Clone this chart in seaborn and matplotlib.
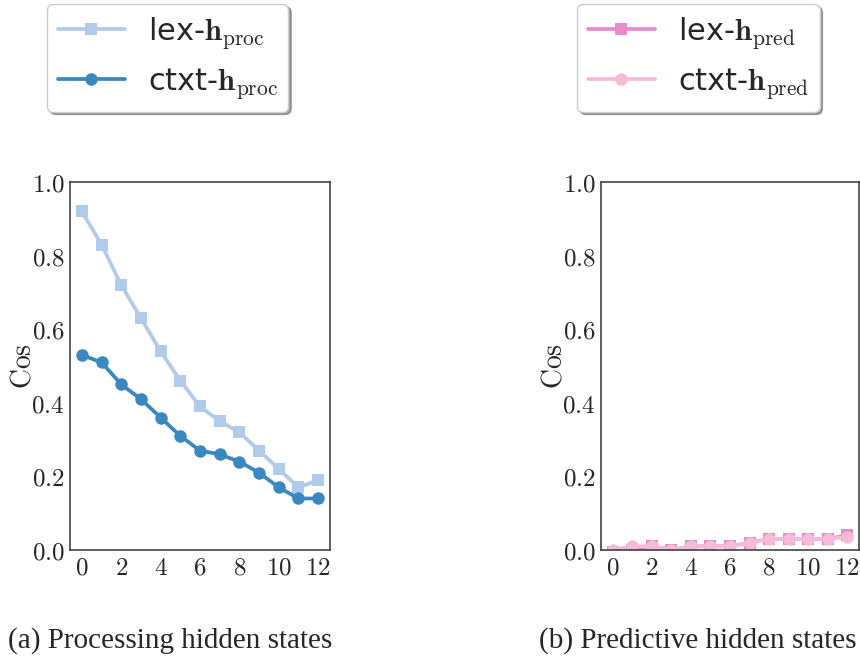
import numpy as np
import pandas as pd
import matplotlib
matplotlib.use("Agg")
import matplotlib.pyplot as plt
import seaborn as sns

layers = list(range(13))

lex_proc = [0.92, 0.83, 0.72, 0.63, 0.54, 0.46, 0.39, 0.35, 0.32, 0.27, 0.22, 0.17, 0.19]
ctxt_proc = [0.53, 0.51, 0.45, 0.41, 0.36, 0.31, 0.27, 0.26, 0.24, 0.21, 0.17, 0.14, 0.14]
lex_pred = [-0.005, 0.0, 0.01, 0.0, 0.01, 0.01, 0.01, 0.02, 0.03, 0.03, 0.03, 0.03, 0.04]
ctxt_pred = [0.0, 0.01, 0.01, 0.0, 0.01, 0.01, 0.01, 0.02, 0.03, 0.03, 0.03, 0.03, 0.035]

y_ticks = [0.0, 0.2, 0.4, 0.6, 0.8, 1.0]
x_ticks = [0, 2, 4, 6, 8, 10, 12]

sns.set_style("white")
plt.rcParams["mathtext.fontset"] = "cm"
plt.rcParams["axes.edgecolor"] = "#444444"
plt.rcParams["axes.linewidth"] = 1.2

fig = plt.figure(figsize=(8.6, 6.59), dpi=100)
W, H = 860, 659
ax_a = fig.add_axes([70 / W, 1 - 550 / H, 260 / W, 368 / H])
ax_b = fig.add_axes([601 / W, 1 - 550 / H, 258 / W, 368 / H])


def draw(ax, series):
    for vals, color, marker, label in series:
        sns.lineplot(x=layers, y=vals, ax=ax, color=color, marker=marker,
                     markersize=9, linewidth=2.7, markeredgewidth=0,
                     label=label, legend=False)
    ax.set_xlim(-0.6, 12.6)
    ax.set_ylim(0.0, 1.0)
    ax.set_xticks(x_ticks)
    ax.set_xticklabels([f"${t}$" for t in x_ticks], fontsize=18)
    ax.set_yticks(y_ticks)
    ax.set_yticklabels([f"${t:.1f}$" for t in y_ticks], fontsize=18)
    ax.tick_params(axis="both", length=3, width=1, color="#444444", pad=1)
    ax.set_ylabel(r"$\mathrm{Cos}$", fontsize=20, labelpad=-4)
    for s in ax.spines.values():
        s.set_visible(True)


series_a = [
    (lex_proc, "#b3cbea", "s", r"lex-$\mathbf{h}_{\mathrm{proc}}$"),
    (ctxt_proc, "#3a88c0", "o", r"ctxt-$\mathbf{h}_{\mathrm{proc}}$"),
]
series_b = [
    (lex_pred, "#e68bcb", "s", r"lex-$\mathbf{h}_{\mathrm{pred}}$"),
    (ctxt_pred, "#f6bcd7", "o", r"ctxt-$\mathbf{h}_{\mathrm{pred}}$"),
]
draw(ax_a, series_a)
draw(ax_b, series_b)

for ax, x0 in ((ax_a, 47), (ax_b, 577)):
    h, l = ax.get_legend_handles_labels()
    fig.legend(h, l, loc="upper left", bbox_to_anchor=(x0 / W, 1 - 4 / H),
               fontsize=22, frameon=True, fancybox=True, shadow=True,
               handlelength=2.2, labelspacing=0.5, borderpad=0.35,
               handletextpad=0.75, borderaxespad=0, framealpha=1.0,
               edgecolor="#cccccc")

fig.text(170 / W, 1 - 641 / H, "(a) Processing hidden states",
         ha="center", va="center", fontsize=21, family="Liberation Serif")
fig.text(698 / W, 1 - 641 / H, "(b) Predictive hidden states",
         ha="center", va="center", fontsize=21, family="Liberation Serif")

fig.savefig("out.png", dpi=100)
